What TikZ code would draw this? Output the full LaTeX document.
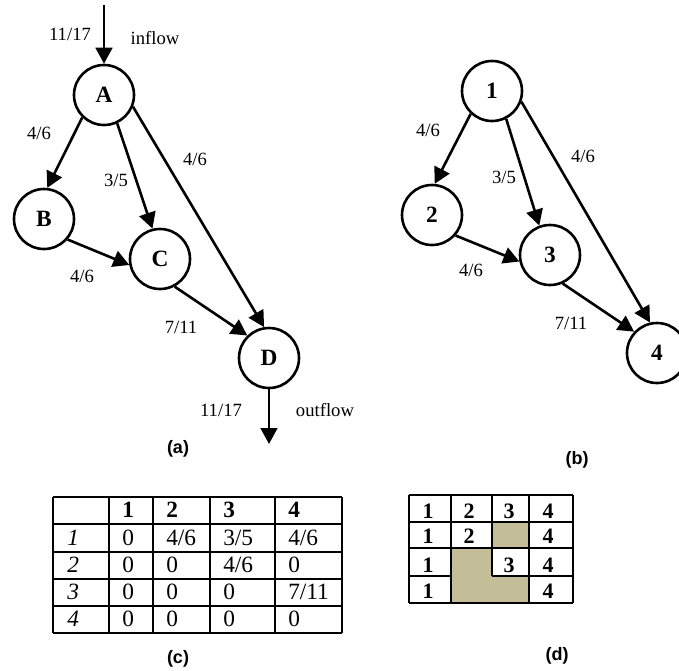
\documentclass[tikz,border=0pt]{standalone}
\usepackage{fontspec}
\setmainfont{Liberation Serif}
\newfontfamily\labfont{Liberation Sans}
\usetikzlibrary{arrows.meta}
\definecolor{tanfill}{RGB}{195,189,152}
\begin{document}
\begin{tikzpicture}[x=0.75pt,y=-0.75pt,
  vert/.style={circle,draw,line width=1.95pt,minimum size=45pt,inner sep=0pt,font=\fontsize{17.5}{19}\selectfont\bfseries},
  flow/.style={line width=1.95pt,-{Triangle[length=12pt,width=12.5pt]}},
  lab/.style={font=\fontsize{14}{16}\selectfont,inner sep=0pt},
  figcap/.style={font=\labfont\bfseries\fontsize{13.5}{15}\selectfont,inner sep=0pt},
  gridline/.style={line width=1.7pt},
  ct/.style={font=\fontsize{17.5}{19}\selectfont,inner sep=0pt,anchor=base west},
  cth/.style={ct,font=\fontsize{17.5}{19}\selectfont\bfseries},
  cti/.style={ct,font=\fontsize{17.5}{19}\selectfont\itshape},
  dt/.style={font=\fontsize{16.5}{18}\selectfont\bfseries,inner sep=0pt,anchor=base},
]
\useasboundingbox (0,0) rectangle (679,671);
\clip (0,0) rectangle (679,671);

% ---------- (a) ----------
\node[vert] (A) at (104,95) {A};
\node[vert] (B) at (44,219) {B};
\node[vert] (C) at (160,259) {C};
\node[vert] (D) at (269,358) {D};
\coordinate (inA) at (104,5);
\coordinate (outD) at (269,444);
\draw[flow] (inA) -- (A.north);
\draw[flow] (A.226) -- (B.84);
\draw[flow] (A.295) -- (C.104);
\draw[flow] (A.338) -- (D.99);
\draw[flow] (B.319) -- (C.191);
\draw[flow] (C.298) -- (D.134);
\draw[flow] (D.south) -- (outD);
\node[lab] (la1) at (70,34) {11/17};
\node[lab] (la2) at (155,38) {inflow};
\node[lab] (la3) at (39,133) {4/6};
\node[lab] (la4) at (116,180) {3/5};
\node[lab] (la5) at (195,159) {4/6};
\node[lab] (la6) at (82,276) {4/6};
\node[lab] (la7) at (181,327) {7/11};
\node[lab] (la8) at (221,410) {11/17};
\node[lab] (la9) at (325,410) {outflow};
\node[figcap] (capa) at (178,449) {(a)};

% ---------- (b) ----------
\node[vert] (n1) at (492,91) {1};
\node[vert] (n2) at (432,215) {2};
\node[vert] (n3) at (550,255) {3};
\node[vert] (n4) at (657,353) {4};
\draw[flow] (n1.227) -- (n2.85);
\draw[flow] (n1.297) -- (n3.110);
\draw[flow] (n1.340) -- (n4.103);
\draw[flow] (n2.319) -- (n3.192);
\draw[flow] (n3.294) -- (n4.137);
\node[lab] (lb1) at (428,130) {4/6};
\node[lab] (lb2) at (504,177) {3/5};
\node[lab] (lb3) at (583,156) {4/6};
\node[lab] (lb4) at (471,270) {4/6};
\node[lab] (lb5) at (571,323) {7/11};
\node[figcap] (capb) at (577,460) {(b)};

% ---------- (c) ----------
\foreach \y in {497,524,552,579,606,633} \draw[gridline] (53,\y) -- (342,\y);
\foreach \x in {53,109,153,210,275,342} \draw[gridline] (\x,497) -- (\x,633);
\node[cth] (ch1) at (122,517) {1};
\node[cth] (ch2) at (166,517) {2};
\node[cth] (ch3) at (223,517) {3};
\node[cth] (ch4) at (288,517) {4};
\node[cti] (cr1) at (67,545) {1};
\node[cti] (cr2) at (67,572) {2};
\node[cti] (cr3) at (67,599) {3};
\node[cti] (cr4) at (67,626) {4};
\node[ct] (c11) at (122,545) {0};
\node[ct] (c12) at (166,545) {4/6};
\node[ct] (c13) at (223,545) {3/5};
\node[ct] (c14) at (288,545) {4/6};
\node[ct] (c21) at (122,572) {0};
\node[ct] (c22) at (166,572) {0};
\node[ct] (c23) at (223,572) {4/6};
\node[ct] (c24) at (288,572) {0};
\node[ct] (c31) at (122,599) {0};
\node[ct] (c32) at (166,599) {0};
\node[ct] (c33) at (223,599) {0};
\node[ct] (c34) at (288,599) {7/11};
\node[ct] (c41) at (122,626) {0};
\node[ct] (c42) at (166,626) {0};
\node[ct] (c43) at (223,626) {0};
\node[ct] (c44) at (288,626) {0};
\node[figcap] (capc) at (178,659) {(c)};

% ---------- (d) ----------
\fill[tanfill] (492,522) rectangle (529,548);
\fill[tanfill] (451,548) rectangle (492,603);
\fill[tanfill] (492,576) rectangle (529,603);
\foreach \y in {495,522,548,603} \draw[gridline] (409,\y) -- (573,\y);
\draw[gridline] (409,576) -- (451,576);
\draw[gridline] (492,576) -- (573,576);
\foreach \x in {409,451,529,573} \draw[gridline] (\x,495) -- (\x,603);
\draw[gridline] (492,495) -- (492,576);
\node[dt] (d11) at (428,518) {1};
\node[dt] (d12) at (469,518) {2};
\node[dt] (d13) at (509,518) {3};
\node[dt] (d14) at (548,518) {4};
\node[dt] (d21) at (428,543) {1};
\node[dt] (d22) at (469,543) {2};
\node[dt] (d24) at (548,543) {4};
\node[dt] (d31) at (428,572) {1};
\node[dt] (d33) at (509,572) {3};
\node[dt] (d34) at (548,572) {4};
\node[dt] (d41) at (428,598) {1};
\node[dt] (d44) at (548,598) {4};
\node[figcap] (capd) at (557,656) {(d)};
\end{tikzpicture}
\end{document}
